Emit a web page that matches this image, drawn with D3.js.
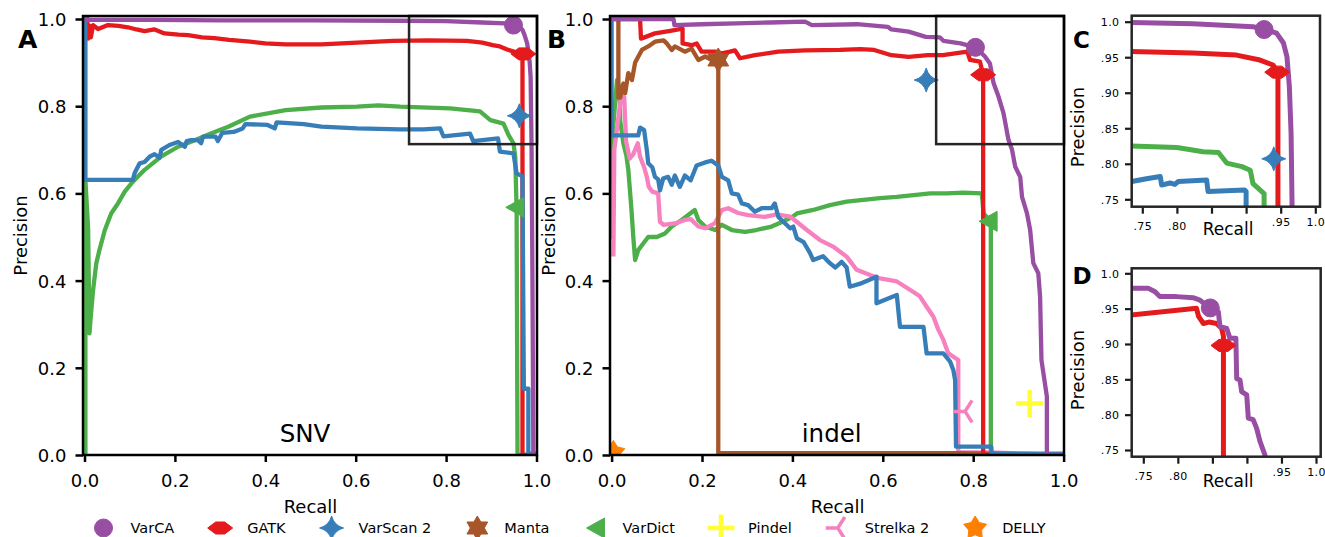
<!DOCTYPE html>
<html>
<head>
<meta charset="utf-8">
<script src="https://cdn.jsdelivr.net/npm/d3@7"></script>
<style>
  body { margin: 0; background: #fff; }
  svg text { font-family: "DejaVu Sans", sans-serif; fill: #000; }
</style>
</head>
<body>
<svg id="chart" width="1325" height="537"></svg>
<script>
// ---- tools (legend order) and their colours ----
const toolNames  = ["VarCA", "GATK", "VarScan 2", "Manta", "VarDict", "Pindel", "Strelka 2", "DELLY"];
const toolColors = ["#984ea3", "#e41a1c", "#377eb8", "#a65628", "#4daf4a", "#ffff33", "#f781bf", "#ff7f00"];

// ---- SNV precision-recall curves, [recall, precision] ----
const snvVarCA = [[0.004,1.0],[0.01,0.998],[0.15,0.998],[0.3,0.997],[0.5,0.997],[0.7,0.996],[0.8,0.995],[0.88,0.992],[0.93,0.990],[0.949,0.986],[0.962,0.983],[0.969,0.975],[0.974,0.962],[0.979,0.945],[0.982,0.928],[0.985,0.900],[0.987,0.866],[0.989,0.715],[0.991,0.409],[0.993,0.004],[1.0,0.0]];
const snvGATK = [[0.006,1.0],[0.008,0.955],[0.011,0.985],[0.014,0.958],[0.019,0.986],[0.030,0.977],[0.052,0.986],[0.075,0.984],[0.096,0.981],[0.115,0.976],[0.133,0.972],[0.155,0.976],[0.177,0.967],[0.208,0.964],[0.229,0.963],[0.26,0.958],[0.287,0.956],[0.32,0.952],[0.366,0.948],[0.40,0.944],[0.445,0.942],[0.524,0.942],[0.603,0.946],[0.682,0.950],[0.761,0.951],[0.846,0.950],[0.88,0.946],[0.903,0.940],[0.919,0.937],[0.935,0.930],[0.953,0.924],[0.969,0.919],[0.969,0.0],[1.0,0.0]];
const snvVarScan = [[0.002,1.0],[0.002,0.631],[0.107,0.631],[0.111,0.647],[0.122,0.669],[0.133,0.672],[0.144,0.684],[0.155,0.690],[0.166,0.682],[0.170,0.700],[0.188,0.711],[0.207,0.718],[0.222,0.707],[0.226,0.720],[0.236,0.722],[0.251,0.722],[0.258,0.715],[0.262,0.730],[0.290,0.730],[0.295,0.720],[0.305,0.739],[0.330,0.741],[0.350,0.749],[0.356,0.759],[0.405,0.757],[0.421,0.749],[0.425,0.763],[0.485,0.759],[0.524,0.753],[0.603,0.749],[0.698,0.747],[0.750,0.747],[0.787,0.749],[0.794,0.731],[0.853,0.737],[0.860,0.720],[0.915,0.726],[0.919,0.696],[0.949,0.692],[0.956,0.646],[0.969,0.639],[0.972,0.152],[0.982,0.152],[0.982,0.003],[1.0,0.003]];
const snvVarDict = [[0.002,0.0],[0.002,0.63],[0.008,0.52],[0.011,0.279],[0.014,0.32],[0.019,0.378],[0.026,0.439],[0.033,0.470],[0.045,0.516],[0.059,0.554],[0.074,0.577],[0.089,0.604],[0.107,0.627],[0.133,0.654],[0.170,0.685],[0.207,0.707],[0.244,0.722],[0.281,0.738],[0.318,0.753],[0.366,0.776],[0.445,0.791],[0.524,0.797],[0.603,0.799],[0.650,0.802],[0.698,0.799],[0.809,0.795],[0.875,0.788],[0.898,0.768],[0.927,0.760],[0.938,0.734],[0.949,0.715],[0.953,0.684],[0.956,0.562],[0.958,0.0],[1.0,0.0]];

// SNV operating points
const snvMarkTools     = ["VarCA", "GATK", "VarScan 2", "VarDict"];
const snvMarkRecall    = [0.949, 0.971, 0.962, 0.952];
const snvMarkPrecision = [0.986, 0.920, 0.778, 0.568];

// ---- indel precision-recall curves ----
const indelVarCA = [[0.0,1.0],[0.137,1.0],[0.139,0.986],[0.2,0.988],[0.276,0.990],[0.35,0.992],[0.428,0.994],[0.443,0.986],[0.543,0.988],[0.611,0.982],[0.619,0.976],[0.657,0.971],[0.695,0.959],[0.726,0.958],[0.734,0.950],[0.772,0.944],[0.805,0.935],[0.826,0.914],[0.837,0.898],[0.845,0.853],[0.856,0.822],[0.867,0.784],[0.878,0.723],[0.886,0.700],[0.893,0.661],[0.904,0.638],[0.908,0.592],[0.919,0.554],[0.926,0.516],[0.933,0.440],[0.944,0.417],[0.948,0.363],[0.951,0.218],[0.963,0.134],[0.963,0.0],[1.0,0.0]];
const indelGATK = [[0.0,1.0],[0.063,1.0],[0.065,0.955],[0.096,0.967],[0.13,0.973],[0.157,0.978],[0.157,0.944],[0.177,0.940],[0.188,0.944],[0.199,0.925],[0.229,0.925],[0.244,0.921],[0.262,0.925],[0.273,0.928],[0.284,0.910],[0.317,0.917],[0.369,0.925],[0.428,0.928],[0.505,0.929],[0.55,0.931],[0.581,0.929],[0.619,0.917],[0.657,0.913],[0.70,0.917],[0.733,0.917],[0.787,0.925],[0.793,0.906],[0.815,0.902],[0.822,0.872],[0.822,0.0],[1.0,0.0]];
const indelVarScan = [[0.0,1.0],[0.0,0.733],[0.059,0.733],[0.063,0.751],[0.072,0.745],[0.078,0.699],[0.081,0.669],[0.090,0.660],[0.096,0.638],[0.103,0.632],[0.107,0.607],[0.114,0.634],[0.125,0.638],[0.133,0.620],[0.140,0.641],[0.151,0.615],[0.162,0.641],[0.175,0.630],[0.188,0.664],[0.207,0.671],[0.221,0.675],[0.236,0.664],[0.244,0.638],[0.258,0.630],[0.266,0.600],[0.280,0.597],[0.288,0.577],[0.302,0.573],[0.317,0.558],[0.332,0.566],[0.354,0.566],[0.361,0.577],[0.369,0.546],[0.384,0.531],[0.395,0.520],[0.402,0.524],[0.410,0.497],[0.425,0.488],[0.439,0.463],[0.446,0.447],[0.468,0.456],[0.483,0.440],[0.495,0.430],[0.509,0.443],[0.520,0.430],[0.527,0.386],[0.550,0.393],[0.586,0.409],[0.586,0.348],[0.631,0.367],[0.638,0.294],[0.690,0.294],[0.697,0.233],[0.734,0.233],[0.749,0.214],[0.756,0.195],[0.760,0.172],[0.762,0.019],[0.840,0.019],[0.841,0.003],[1.0,0.003]];
const indelManta = [[0.015,1.0],[0.015,0.82],[0.019,0.82],[0.026,0.852],[0.030,0.830],[0.037,0.876],[0.045,0.860],[0.052,0.900],[0.067,0.929],[0.081,0.937],[0.096,0.948],[0.115,0.951],[0.122,0.944],[0.133,0.929],[0.140,0.937],[0.162,0.925],[0.177,0.932],[0.192,0.906],[0.207,0.914],[0.221,0.906],[0.236,0.906],[0.236,0.004],[0.765,0.004],[1.0,0.0]];
const indelVarDict = [[0.001,0.50],[0.001,0.72],[0.012,0.86],[0.018,0.84],[0.019,0.767],[0.026,0.715],[0.033,0.685],[0.037,0.654],[0.044,0.562],[0.048,0.50],[0.052,0.447],[0.059,0.470],[0.070,0.485],[0.081,0.500],[0.100,0.500],[0.118,0.508],[0.133,0.524],[0.155,0.539],[0.184,0.562],[0.192,0.539],[0.207,0.524],[0.229,0.516],[0.244,0.528],[0.266,0.516],[0.295,0.512],[0.320,0.516],[0.354,0.524],[0.372,0.532],[0.398,0.545],[0.410,0.554],[0.446,0.562],[0.483,0.573],[0.520,0.581],[0.557,0.585],[0.594,0.589],[0.631,0.592],[0.668,0.596],[0.705,0.600],[0.742,0.600],[0.778,0.602],[0.819,0.600],[0.823,0.554],[0.835,0.540],[0.839,0.530],[0.839,0.0],[1.0,0.0]];
const indelStrelka = [[0.004,0.46],[0.006,0.70],[0.022,0.83],[0.028,0.82],[0.032,0.72],[0.040,0.68],[0.048,0.69],[0.058,0.715],[0.063,0.684],[0.072,0.660],[0.078,0.638],[0.082,0.616],[0.090,0.604],[0.103,0.600],[0.107,0.535],[0.115,0.528],[0.140,0.531],[0.162,0.539],[0.175,0.541],[0.192,0.524],[0.207,0.520],[0.229,0.532],[0.244,0.562],[0.258,0.566],[0.280,0.555],[0.302,0.550],[0.339,0.546],[0.365,0.552],[0.395,0.547],[0.432,0.516],[0.461,0.493],[0.490,0.478],[0.520,0.455],[0.542,0.425],[0.572,0.413],[0.594,0.405],[0.631,0.398],[0.660,0.379],[0.682,0.364],[0.697,0.340],[0.712,0.317],[0.723,0.287],[0.734,0.264],[0.745,0.233],[0.767,0.218],[0.767,0.006],[0.835,0.006],[1.0,0.0]];

// indel operating points
const indelMarkTools     = ["VarCA", "GATK", "VarScan 2", "Manta", "VarDict", "Pindel", "Strelka 2", "DELLY"];
const indelMarkRecall    = [0.805, 0.822, 0.696, 0.236, 0.833, 0.925, 0.782, 0.004];
const indelMarkPrecision = [0.935, 0.872, 0.860, 0.906, 0.536, 0.118, 0.100, 0.006];

// ---- close-up views of the top-right corner ----
const snvZoomVarCA   = [[0.734,0.999],[0.823,0.997],[0.910,0.993],[0.926,0.989],[0.944,0.984],[0.954,0.970],[0.959,0.951],[0.9625,0.909],[0.965,0.843],[0.967,0.70]];
const snvZoomGATK    = [[0.734,0.958],[0.823,0.956],[0.886,0.953],[0.920,0.946],[0.939,0.939],[0.946,0.928],[0.946,0.70]];
const snvZoomVarScan = [[0.734,0.775],[0.756,0.779],[0.776,0.782],[0.778,0.770],[0.790,0.773],[0.797,0.771],[0.802,0.775],[0.843,0.777],[0.845,0.761],[0.898,0.763],[0.900,0.761],[0.900,0.70]];
const snvZoomVarDict = [[0.734,0.825],[0.800,0.823],[0.838,0.817],[0.860,0.816],[0.872,0.801],[0.894,0.796],[0.906,0.791],[0.910,0.772],[0.926,0.758],[0.926,0.70]];
const snvZoomMarkTools     = ["VarCA", "GATK", "VarScan 2"];
const snvZoomMarkRecall    = [0.926, 0.945, 0.940];
const snvZoomMarkPrecision = [0.989, 0.929, 0.807];

const indelZoomVarCA = [[0.733,0.979],[0.757,0.979],[0.767,0.974],[0.774,0.967],[0.798,0.967],[0.822,0.9655],[0.832,0.962],[0.847,0.951],[0.8586,0.9457],[0.861,0.9245],[0.8707,0.922],[0.8755,0.908],[0.884,0.908],[0.8852,0.851],[0.890,0.849],[0.8924,0.8325],[0.8997,0.828],[0.902,0.795],[0.909,0.793],[0.914,0.781],[0.919,0.762],[0.926,0.743],[0.930,0.70]];
const indelZoomGATK  = [[0.733,0.941],[0.827,0.9505],[0.830,0.939],[0.837,0.929],[0.845,0.931],[0.856,0.929],[0.8635,0.922],[0.866,0.911],[0.866,0.898],[0.866,0.70]];
const indelZoomMarkTools     = ["VarCA", "GATK"];
const indelZoomMarkRecall    = [0.847, 0.866];
const indelZoomMarkPrecision = [0.951, 0.898];

// ---- ticks ----
const mainTicks       = [0, 0.2, 0.4, 0.6, 0.8, 1.0];
const mainTickLabels  = ["0.0", "0.2", "0.4", "0.6", "0.8", "1.0"];
const insetTicks      = [0.75, 0.80, 0.85, 0.90, 0.95, 1.0];
const insetYTickLabels = [".75", ".80", ".85", ".90", ".95", "1.0"];
const insetXTickLabels = [".75", ".80", "", "", ".95", "1.0"];

// corner region shown in the close-ups
const windowRecall = 0.718;
const windowPrecision = 0.713;

// ------------------------------------------------------------------
const svg = d3.select("#chart");
const colorOf = d3.scaleOrdinal(toolNames, toolColors);

function starPath(n, ro, ri) {
  const pts = d3.range(2 * n).map(i => {
    const r = i % 2 ? ri : ro, a = -Math.PI / 2 + i * Math.PI / n;
    return [r * Math.cos(a), r * Math.sin(a)];
  });
  return "M" + pts.map(p => p[0].toFixed(2) + "," + p[1].toFixed(2)).join("L") + "Z";
}

const markerShapes = {
  "VarCA":     { d: d3.symbol(d3.symbolCircle, Math.PI * 81)(), fill: true },
  "GATK":      { d: "M-12.5,0L-4.5,-6L4.5,-6L12.5,0L4.5,6L-4.5,6Z", fill: true },
  "VarScan 2": { d: "M-12,0Q-2.5,-2.5 0,-12Q2.5,-2.5 12,0Q2.5,2.5 0,12Q-2.5,2.5 -12,0Z", fill: true },
  "Manta":     { d: starPath(6, 12, 7), fill: true },
  "VarDict":   { d: "M-9,0L9,-10L9,10Z", fill: true },
  "Pindel":    { d: "M-13.5,0H13.5M0,-13.5V13.5", fill: false, sw: 4.5 },
  "Strelka 2": { d: "M0,0H-12M0,0L7,-11M0,0L7,11", fill: false, sw: 3.5 },
  "DELLY":     { d: starPath(5, 12, 6.8), fill: true }
};

function drawMarker(g, tool, x, y) {
  const m = markerShapes[tool];
  g.append("path")
    .attr("d", m.d)
    .attr("transform", `translate(${x},${y})`)
    .attr("fill", m.fill ? colorOf(tool) : "none")
    .attr("stroke", colorOf(tool))
    .attr("stroke-width", m.fill ? 1 : m.sw)
    .attr("stroke-linejoin", "round");
}

const panels = [
  { id: "A", box: [83, 537, 16, 455], xDom: [0, 1], xRange: [84.5, 536.5], yDom: [0, 1], yRange: [455, 19],
    lw: 4.3, spine: "#000", main: true, title: "SNV", titleX: 305,
    curves: [["VarDict", snvVarDict], ["GATK", snvGATK], ["VarScan 2", snvVarScan], ["VarCA", snvVarCA]],
    marks: [snvMarkTools, snvMarkRecall, snvMarkPrecision],
    letter: [18, 48], ylabel: [26.5, 235.5], xlabel: [310.5, 513] },
  { id: "B", box: [610, 1064, 16, 455], xDom: [0, 1], xRange: [611.6, 1063.6], yDom: [0, 1], yRange: [455, 19],
    lw: 4.3, spine: "#000", main: true, title: "indel", titleX: 831.7,
    curves: [["VarDict", indelVarDict], ["Strelka 2", indelStrelka], ["Manta", indelManta], ["GATK", indelGATK], ["VarScan 2", indelVarScan], ["VarCA", indelVarCA]],
    marks: [indelMarkTools, indelMarkRecall, indelMarkPrecision],
    letter: [547, 48], ylabel: [555, 235.5], xlabel: [837.6, 513] },
  { id: "C", box: [1131.7, 1320, 15.7, 206.7], xDom: [0.75, 1], xRange: [1142.3, 1315.3], yDom: [0.75, 1], yRange: [199.3, 21.7],
    lw: 5, spine: "#262626", main: false,
    curves: [["VarDict", snvZoomVarDict], ["GATK", snvZoomGATK], ["VarScan 2", snvZoomVarScan], ["VarCA", snvZoomVarCA]],
    marks: [snvZoomMarkTools, snvZoomMarkRecall, snvZoomMarkPrecision],
    letter: [1073, 47.7], ylabel: [1084, 127], xlabel: [1228, 235] },
  { id: "D", box: [1131.7, 1320.7, 268.3, 456.7], xDom: [0.75, 1], xRange: [1143.3, 1316], yDom: [0.75, 1], yRange: [450, 273.3],
    lw: 5, spine: "#262626", main: false,
    curves: [["GATK", indelZoomGATK], ["VarCA", indelZoomVarCA]],
    marks: [indelZoomMarkTools, indelZoomMarkRecall, indelZoomMarkPrecision],
    letter: [1072.5, 284.3], ylabel: [1084, 370], xlabel: [1228, 487.3] }
];

panels.forEach(p => {
  const g = svg.append("g");
  const x = d3.scaleLinear(p.xDom, p.xRange);
  const y = d3.scaleLinear(p.yDom, p.yRange);
  const [bx0, bx1, by0, by1] = p.box;

  svg.append("clipPath").attr("id", "clip" + p.id)
    .append("rect").attr("x", bx0).attr("y", by0).attr("width", bx1 - bx0).attr("height", by1 - by0);
  const plot = g.append("g").attr("clip-path", `url(#clip${p.id})`);

  const line = d3.line().x(d => x(d[0])).y(d => y(d[1]));
  p.curves.forEach(([tool, pts]) => {
    plot.append("path").attr("d", line(pts))
      .attr("fill", "none").attr("stroke", colorOf(tool))
      .attr("stroke-width", p.lw).attr("stroke-linejoin", "round").attr("stroke-linecap", "square");
  });

  const [mt, mr, mp] = p.marks;
  mt.forEach((t, k) => drawMarker(plot, t, x(mr[k]), y(mp[k])));

  if (p.main) {
    g.append("text").attr("x", p.titleX).attr("y", 441.7).attr("text-anchor", "middle")
      .style("font-size", "24.5px").text(p.title);
    // outline of the close-up region
    g.append("rect")
      .attr("x", x(windowRecall)).attr("y", by0)
      .attr("width", bx1 - x(windowRecall)).attr("height", y(windowPrecision) - by0)
      .attr("fill", "none").attr("stroke", "#262626").attr("stroke-width", 2.5);
  }

  // axes
  const tickFs = p.main ? 18 : 11;
  const xTicks = p.main ? mainTicks : insetTicks;
  const xLabels = p.main ? mainTickLabels : insetXTickLabels;
  const yLabels = p.main ? mainTickLabels : insetYTickLabels;
  const xAxis = d3.axisBottom(x).tickValues(xTicks).tickFormat((d, i) => xLabels[i])
    .tickSize(7).tickPadding(p.main ? 12 : 8.5);
  const yAxis = d3.axisLeft(y).tickValues(xTicks).tickFormat((d, i) => yLabels[i])
    .tickSize(p.main ? 7.5 : 6.7).tickPadding(p.main ? 9 : 5.5);

  const gx = g.append("g").attr("transform", `translate(0,${by1})`).call(xAxis);
  const gy = g.append("g").attr("transform", `translate(${bx0},0)`).call(yAxis);
  [gx, gy].forEach(a => {
    a.select(".domain").remove();
    a.attr("font-family", null).attr("font-size", null);
    a.selectAll("line").attr("stroke", p.main ? "#000" : "#1a1a1a").attr("stroke-width", p.main ? 2.5 : 2.2);
    a.selectAll("text").style("font-size", tickFs + "px")
      .style("letter-spacing", p.main ? null : "0.4px");
  });
  gy.selectAll("text").attr("dy", "0.36em");
  if (!p.main) {
    gx.selectAll("text").attr("transform", d => d >= 0.95 ? "translate(0,-3.5)" : null);
  }

  // spines
  g.append("rect").attr("x", bx0).attr("y", by0).attr("width", bx1 - bx0).attr("height", by1 - by0)
    .attr("fill", "none").attr("stroke", p.spine).attr("stroke-width", 2.5);

  // axis titles and panel letter
  g.append("text").attr("transform", `translate(${p.ylabel[0]},${p.ylabel[1]}) rotate(-90)`)
    .attr("text-anchor", "middle").style("font-size", "18px").text("Precision");
  g.append("text").attr("x", p.xlabel[0]).attr("y", p.xlabel[1]).attr("text-anchor", "middle")
    .style("font-size", p.main ? "18px" : "17px").text("Recall");
  g.append("text").attr("x", p.letter[0]).attr("y", p.letter[1])
    .style("font-size", p.main ? "25px" : "23px").style("font-weight", "bold").text(p.id);
});

// legend
const legend = svg.append("g");
let lx = 103.5;
toolNames.forEach(t => {
  drawMarker(legend, t, lx, 528);
  const txt = legend.append("text").attr("x", lx + 27).attr("y", 533.3)
    .style("font-size", "14.5px").text(t);
  lx += 27 + txt.node().getComputedTextLength() + 46;
});
</script>
</body>
</html>
